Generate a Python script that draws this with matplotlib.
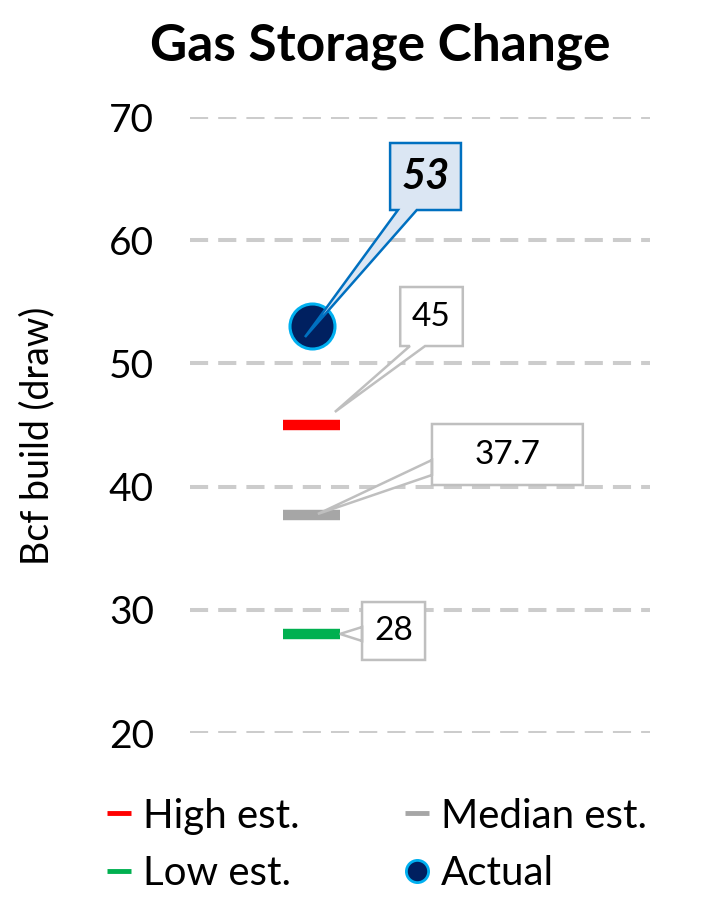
import matplotlib.pyplot as plt
from matplotlib.patches import Polygon
from matplotlib.lines import Line2D

plt.rcParams["font.family"] = ["Lato", "DejaVu Sans"]

# data
labels = ["High est.", "Median est.", "Low est.", "Actual"]
high_est = 45
median_est = 37.7
low_est = 28
actual = 53
y_ticks = [20, 30, 40, 50, 60, 70]

fig = plt.figure(figsize=(7.05, 9), dpi=100)
ax = fig.add_axes([190 / 705, 1 - 733 / 900, 460 / 705, (733 - 117) / 900])
ax.set_xlim(0, 1)
ax.set_ylim(20, 70)

xc = 0.265
half = 0.062
ax.hlines(high_est, xc - half, xc + half, color="#ff0000", lw=7.5, zorder=3)
ax.hlines(median_est, xc - half, xc + half, color="#a6a6a6", lw=7.5, zorder=3)
ax.hlines(low_est, xc - half, xc + half, color="#00b050", lw=7.5, zorder=3)
ax.scatter([xc], [actual], s=1050, color="#002060", edgecolor="#00b0f0", linewidth=2.2, zorder=4)


def callout(v, tip, box, base, side, text, face, edge, lw, **kw):
    tx, tdy = tip
    x0, x1, dy0, dy1 = box
    ty = v + tdy
    yb, yt = v + dy0, v + dy1
    if side == "bottom":
        b0, b1 = base
        pts = [(x0, yt), (x1, yt), (x1, yb), (b1, yb), (tx, ty), (b0, yb), (x0, yb)]
    else:
        b0, b1 = v + base[0], v + base[1]
        pts = [(x0, yt), (x1, yt), (x1, yb), (x0, yb), (x0, b0), (tx, ty), (x0, b1)]
    ax.add_patch(Polygon(pts, closed=True, facecolor=face, edgecolor=edge, lw=lw,
                         joinstyle="miter", zorder=5, clip_on=False))
    ax.text((x0 + x1) / 2, (yb + yt) / 2, text, ha="center", va="center", zorder=6, **kw)


callout(actual, (0.250, -0.86), (0.435, 0.589, 9.45, 14.89), (0.452, 0.493), "bottom",
        f"{actual}", "#dbe6f3", "#0070c0", 1.8, fontsize=30, fontweight="bold", fontstyle="italic")
callout(high_est, (0.315, 1.06), (0.457, 0.593, 6.41, 11.2), (0.478, 0.511), "bottom",
        f"{high_est}", "white", "#bfbfbf", 1.8, fontsize=24)
callout(median_est, (0.278, 0.08), (0.526, 0.854, 2.43, 7.38), (4.46, 3.24), "left",
        f"{median_est}", "white", "#bfbfbf", 1.8, fontsize=24)
callout(low_est, (0.326, 0.04), (0.374, 0.511, -2.07, 2.63), (0.6, -0.53), "left",
        f"{low_est}", "white", "#bfbfbf", 1.8, fontsize=24)

ax.set_yticks(y_ticks)
ax.set_xticks([])
ax.yaxis.grid(True, color="#cccccc", lw=2.9, linestyle=(0, (4.5, 2.5)))
ax.set_axisbelow(True)
for s in ax.spines.values():
    s.set_visible(False)
ax.tick_params(axis="y", length=0, pad=26, labelsize=28)

fig.text(0.539, 0.949, "Gas Storage Change", ha="center", va="center", fontsize=37, fontweight="bold")
fig.text(37 / 705, 1 - 436 / 900, "Bcf build (draw)", rotation=90, ha="center", va="center", fontsize=27)

handles = [
    Line2D([], [], color="#ff0000", lw=3.5, solid_capstyle="butt"),
    Line2D([], [], color="#00b050", lw=3.5, solid_capstyle="butt"),
    Line2D([], [], color="#a6a6a6", lw=3.5, solid_capstyle="butt"),
    Line2D([], [], marker="o", ls="none", markersize=16, markerfacecolor="#002060",
           markeredgecolor="#00b0f0", markeredgewidth=2),
]
fig.legend(handles, [labels[0], labels[2], labels[1], labels[3]], ncol=2, frameon=False,
           loc="center left", bbox_to_anchor=(107 / 705, 1 - 845 / 900), fontsize=29,
           borderpad=0, borderaxespad=0, handlelength=0.6, handletextpad=0.3,
           columnspacing=2.6, labelspacing=0.52)

fig.savefig("out.png", dpi=100)
